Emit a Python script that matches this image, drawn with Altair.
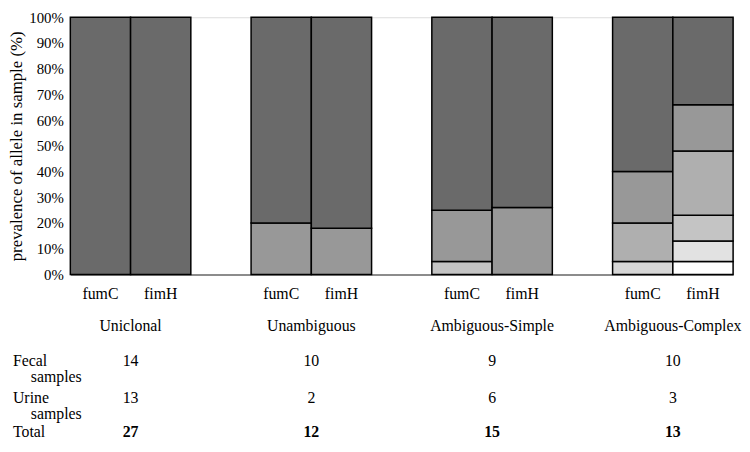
import altair as alt
import pandas as pd

# ---- data ----
groups = ["Uniclonal", "Unambiguous", "Ambiguous-Simple", "Ambiguous-Complex"]
genes = ["fumC", "fimH"]
# segment values (bottom to top, %) and shade keys per bar
seg_values = {
    ("Uniclonal", "fumC"): [100],
    ("Uniclonal", "fimH"): [100],
    ("Unambiguous", "fumC"): [20, 80],
    ("Unambiguous", "fimH"): [18, 82],
    ("Ambiguous-Simple", "fumC"): [5, 20, 75],
    ("Ambiguous-Simple", "fimH"): [26, 74],
    ("Ambiguous-Complex", "fumC"): [5, 15, 20, 60],
    ("Ambiguous-Complex", "fimH"): [5, 8, 10, 25, 18, 34],
}
seg_shades = {
    ("Uniclonal", "fumC"): ["s1"],
    ("Uniclonal", "fimH"): ["s1"],
    ("Unambiguous", "fumC"): ["s2", "s1"],
    ("Unambiguous", "fimH"): ["s2", "s1"],
    ("Ambiguous-Simple", "fumC"): ["s4", "s2", "s1"],
    ("Ambiguous-Simple", "fimH"): ["s2", "s1"],
    ("Ambiguous-Complex", "fumC"): ["s5", "s3", "s2", "s1"],
    ("Ambiguous-Complex", "fimH"): ["s7", "s6", "s4", "s3", "s2", "s1"],
}
shade_keys = ["s1", "s2", "s3", "s4", "s5", "s6", "s7"]
shade_colors = ["#6a6a6a", "#989898", "#afafaf", "#c4c4c4", "#d6d6d6", "#e2e2e2", "#ffffff"]

fecal = [14, 10, 9, 10]
urine = [13, 2, 6, 3]
total = [27, 12, 15, 13]
row_names = ["Fecal", "Urine", "Total"]

FONT = "Liberation Serif"

# slots: two bars per group plus an empty spacer slot between groups
slots = []
for gi, g in enumerate(groups):
    for gene in genes:
        slots.append(f"{g}|{gene}")
    if gi < len(groups) - 1:
        slots.append("gap" + str(gi))

rows = []
for g in groups:
    for gene in genes:
        for i, (v, s) in enumerate(zip(seg_values[(g, gene)], seg_shades[(g, gene)])):
            rows.append({"slot": f"{g}|{gene}", "value": v / 100.0, "shade": s, "order": i})
bars_df = pd.DataFrame(rows)

tab = pd.DataFrame({
    "slot": [f"{g}|fimH" for g in groups],
    "group": groups,
    "fecal": [str(v) for v in fecal],
    "urine": [str(v) for v in urine],
    "total": [str(v) for v in total],
})

W, H = 670, 260
Y_GROUP, Y_FECAL, Y_URINE, Y_TOTAL, SUB = 312, 348, 385, 419, 16

xscale = alt.Scale(domain=slots, paddingInner=0, paddingOuter=0)
yscale = alt.Scale(domain=[0, 1])
xaxis = alt.Axis(title=None, labelAngle=0, ticks=False, domain=True,
                 domainColor="#8c8c8c", domainWidth=2,
                 labelExpr="indexof(datum.value, '|') > 0 ? split(datum.value, '|')[1] : ''",
                 labelFont=FONT, labelFontSize=16, labelColor="black",
                 labelPadding=11)

bars = alt.Chart(bars_df).mark_bar(stroke="black", strokeWidth=1.5).encode(
    x=alt.X("slot:N", scale=xscale, sort=slots, axis=xaxis),
    y=alt.Y("value:Q", stack="zero", scale=yscale,
            axis=alt.Axis(format=".0%", values=[i / 10 for i in range(11)], grid=False,
                          ticks=False, domain=False, labelFont=FONT, labelFontSize=15,
                          labelColor="black", labelPadding=7,
                          title="prevalence of allele in sample (%)", titleFont=FONT,
                          titleFontSize=17, titleFontWeight="normal", titleColor="black",
                          titlePadding=3)),
    color=alt.Color("shade:N", scale=alt.Scale(domain=shade_keys, range=shade_colors), legend=None),
    order=alt.Order("order:Q"),
)

xb = alt.X("slot:N", scale=xscale, sort=slots, bandPosition=0, axis=xaxis)

def row_text(field, ypx, bold=False):
    return alt.Chart(tab).mark_text(font=FONT, fontSize=16, color="black",
                                    fontWeight="bold" if bold else "normal",
                                    baseline="middle").encode(
        x=xb, y=alt.value(ypx), text=alt.Text(field + ":N"))

group_txt = row_text("group", Y_GROUP)
fecal_txt = row_text("fecal", Y_FECAL)
urine_txt = row_text("urine", Y_URINE)
total_txt = row_text("total", Y_TOTAL, bold=True)

def left_label(text, ypx, xpx):
    return alt.Chart(pd.DataFrame({"t": [text]})).mark_text(
        font=FONT, fontSize=16, color="black", align="left", baseline="middle"
    ).encode(x=alt.value(xpx), y=alt.value(ypx), text="t:N")

labels = [
    left_label(row_names[0], Y_FECAL, -58),
    left_label("samples", Y_FECAL + SUB, -40),
    left_label(row_names[1], Y_URINE, -58),
    left_label("samples", Y_URINE + SUB, -40),
    left_label(row_names[2], Y_TOTAL, -58),
]

chart = alt.layer(bars, group_txt, fecal_txt, urine_txt, total_txt, *labels).properties(
    width=W, height=H, padding=0
).configure_view(stroke=None).configure(background="white")

chart.save("out.html", embed_options={"renderer": "svg", "actions": False})
